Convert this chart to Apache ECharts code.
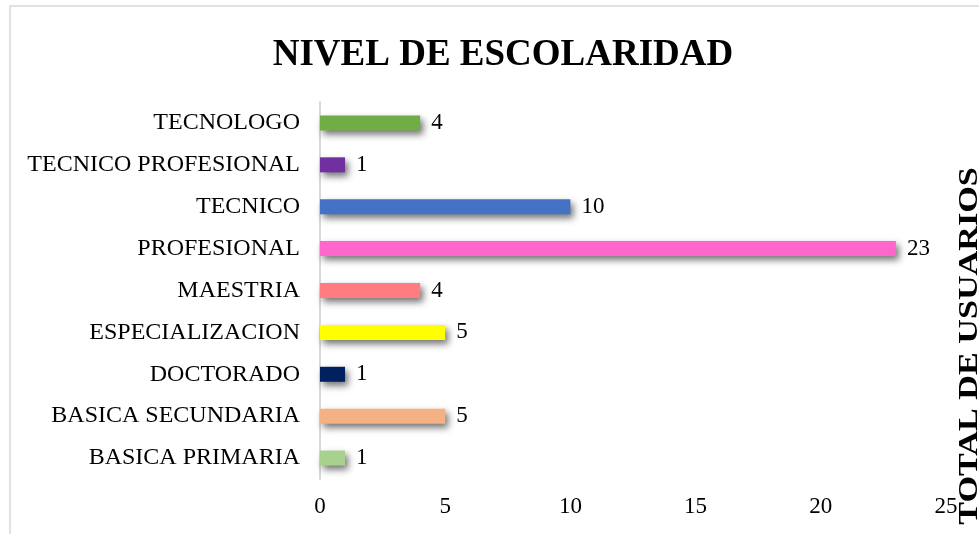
<!DOCTYPE html>
<html>
<head>
<meta charset="utf-8">
<script src="https://cdn.jsdelivr.net/npm/echarts@6/dist/echarts.min.js"></script>
<style>
html,body{margin:0;padding:0;background:#fff;}
#chart{width:979px;height:534px;}
</style>
</head>
<body>
<div id="chart"></div>
<script>
var categories = ['BASICA PRIMARIA','BASICA SECUNDARIA','DOCTORADO','ESPECIALIZACION','MAESTRIA','PROFESIONAL','TECNICO','TECNICO PROFESIONAL','TECNOLOGO'];
var values = [1,5,1,5,4,23,10,1,4];
var colors = ['#A9D18E','#F4B183','#002060','#FFFF00','#FF7C80','#FF66CC','#4472C4','#7030A0','#70AD47'];
var xTicks = [0,5,10,15,20,25];

var FONT = '"Liberation Serif","Times New Roman",serif';
var chart = echarts.init(document.getElementById('chart'));
chart.setOption({
  animation:false,
  backgroundColor:'#fff',
  title:{
    text:'NIVEL DE ESCOLARIDAD',
    left:498, top:50, textAlign:'center', textVerticalAlign:'middle',
    textStyle:{fontFamily:FONT,fontSize:37,fontWeight:'bold',color:'#000'}
  },
  graphic:[
    {type:'rect',shape:{x:10,y:6,width:1200,height:800},style:{fill:'none',stroke:'#d9d9d9',lineWidth:1.5},silent:true},
    {type:'text',x:970,y:346,rotation:Math.PI/2,scaleX:1.22,scaleY:1,
     style:{text:'TOTAL DE USUARIOS',fontFamily:FONT,fontSize:28,fontWeight:'bold',fill:'#000',align:'center',verticalAlign:'middle'}}
  ],
  grid:{left:320,right:33,top:102,bottom:55,containLabel:false},
  xAxis:{
    type:'value',min:0,max:25,interval:5,
    axisLine:{show:false},axisTick:{show:false},splitLine:{show:false},
    axisLabel:{fontFamily:FONT,fontSize:23,color:'#000',margin:16,
      formatter:function(v){return xTicks.indexOf(v)>=0?String(v):'';}}
  },
  yAxis:{
    type:'category',data:categories,
    axisLine:{show:true,lineStyle:{color:'#d9d9d9',width:2}},
    axisTick:{show:false},
    axisLabel:{fontFamily:FONT,fontSize:24,color:'#000',margin:20}
  },
  series:[{
    type:'bar',barWidth:15,
    data:values.map(function(v,i){return {value:v,itemStyle:{color:colors[i]}};}),
    itemStyle:{shadowColor:'rgba(0,0,0,0.55)',shadowBlur:7,shadowOffsetX:3,shadowOffsetY:4},
    label:{show:true,position:'right',distance:11,fontFamily:FONT,fontSize:23,color:'#000'}
  }]
});
</script>
</body>
</html>
